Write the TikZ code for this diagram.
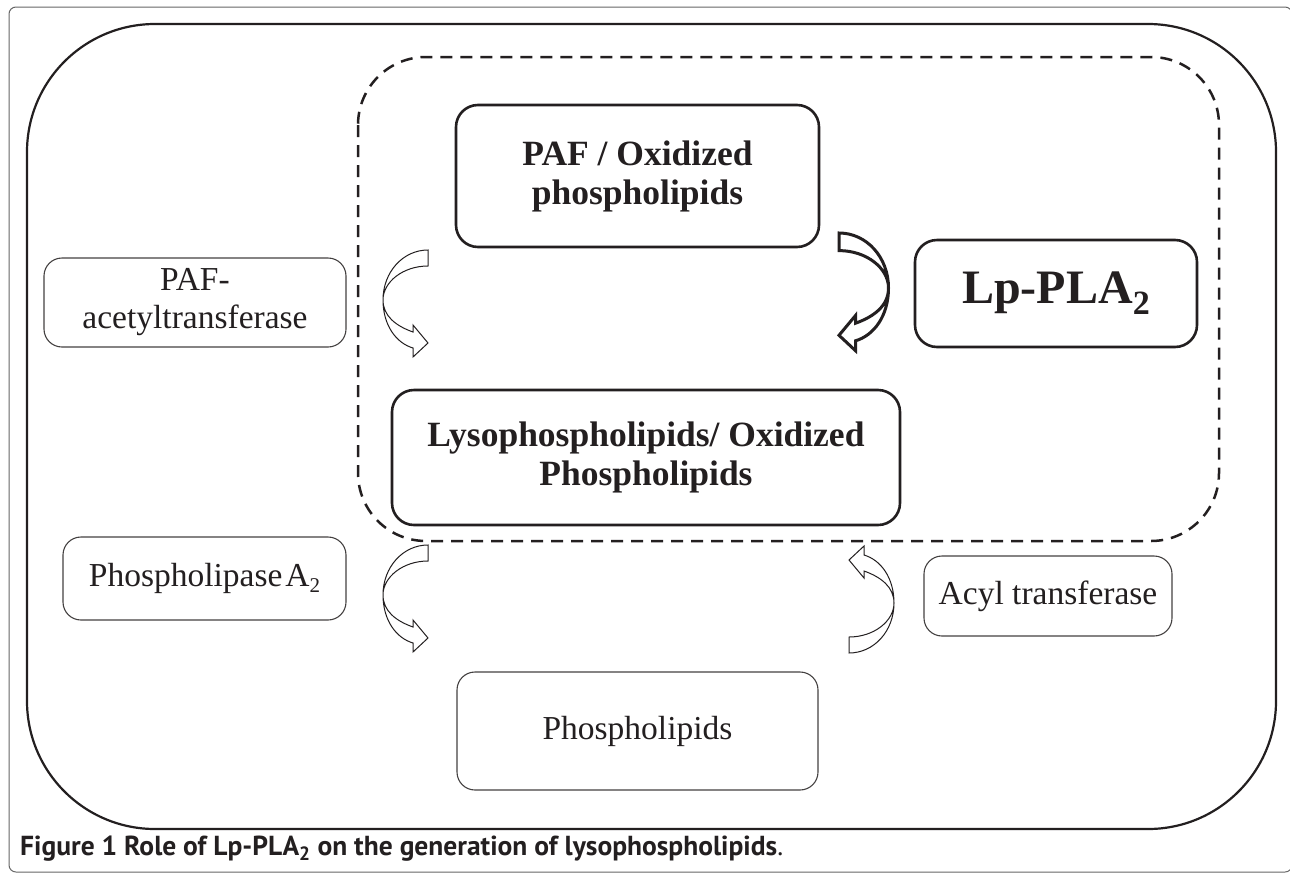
\documentclass[tikz,border=0pt]{standalone}
\usepackage{fontspec}
\setmainfont{Liberation Serif}
\newfontfamily\capfont{PT Sans}
\definecolor{inkc}{HTML}{231F20}
\definecolor{framec}{gray}{0.4}
\tikzset{
  curvarrow/.pic={
    \path[pic actions] (0,0) .. controls (-25,0) and (-45,22) .. (-45,50)
      .. controls (-45,75) and (-32,93) .. (-15,98)
      -- (-15,107) -- (0,93) -- (-15,75) -- (-15,82)
      .. controls (-32,76) and (-45,66) .. (-45,50)
      .. controls (-45,32) and (-25,16) .. (0,16) -- cycle;
  },
  thinarrow/.style={draw=inkc, line width=1pt, fill=white, line join=miter},
  boldarrow/.style={draw=inkc, line width=3pt, fill=white, line join=miter},
  boldbox/.style={draw=inkc, line width=2.6pt, rounded corners=22pt, text=inkc,
    font=\fontsize{35.5}{39}\selectfont\bfseries, align=center, inner sep=0pt},
  thinbox/.style={draw=inkc!85, line width=1.1pt, rounded corners=18pt, text=inkc,
    font=\fontsize{33.5}{38}\selectfont, align=center, inner sep=0pt},
  bigframe/.style={draw=inkc, line width=2.2pt, rounded corners=128pt},
  dashframe/.style={draw=inkc, line width=2.5pt, rounded corners=68pt, dash pattern=on 12pt off 8pt},
  outerframe/.style={draw=framec, line width=1pt, rounded corners=7pt}
}
\begin{document}
\begin{tikzpicture}[x=1pt,y=-1pt]
\useasboundingbox (0,0) rectangle (1290,873);
\clip (0,0) rectangle (1290,873);
\path[fill=white] (0,0) rectangle (1290,873);
% frames
\draw[outerframe] (9,7) rectangle (1292,872);
\draw[bigframe] (27,24) rectangle (1276,829);
\draw[dashframe] (358,57) rectangle (1219,541);
% nodes
\node[boldbox, minimum width=363pt, minimum height=142pt] (paf) at (637.5,176) {PAF / Oxidized\\phospholipids};
\node[boldbox, minimum width=508pt, minimum height=135pt] (lyso) at (646,457.5) {Lysophospholipids/ Oxidized\\Phospholipids};
\node[boldbox, font=\fontsize{48}{52}\selectfont\bfseries, minimum width=282pt, minimum height=107pt] (lp) at (1056,293.5) {Lp-PLA\raisebox{-0.23em}{\fontsize{34}{34}\selectfont 2}};
\node[thinbox, minimum width=302pt, minimum height=89pt] (pafat) at (195,302.5) {PAF-\\acetyltransferase};
\node[thinbox, minimum width=283pt, minimum height=83pt] (pla) at (204.5,578.5) {Phospholipase\kern3pt A\raisebox{-0.18em}{\fontsize{21}{21}\selectfont 2}};
\node[thinbox, minimum width=248pt, minimum height=80pt] (acyl) at (1048,596) {Acyl transferase};
\node[thinbox, minimum width=361pt, minimum height=118pt] (phos) at (637.5,731) {Phospholipids};
% curved block arrows
\pic[thinarrow] (a1) at (428,250) {curvarrow};
\pic[thinarrow] (a2) at (428,545) {curvarrow};
\pic[thinarrow, rotate=180] (a3) at (849,653) {curvarrow};
\pic[boldarrow, xscale=-1.1, yscale=1.1] (a4) at (839,233) {curvarrow};
% caption
\node[anchor=base west, text=inkc, font=\capfont\fontsize{27.5}{32}\selectfont, inner sep=0pt] (cap) at (20,855) {\bfseries Figure 1 Role of Lp-PLA\textsubscript{2} on the generation of lysophospholipids\mdseries.};
\end{tikzpicture}
\end{document}
